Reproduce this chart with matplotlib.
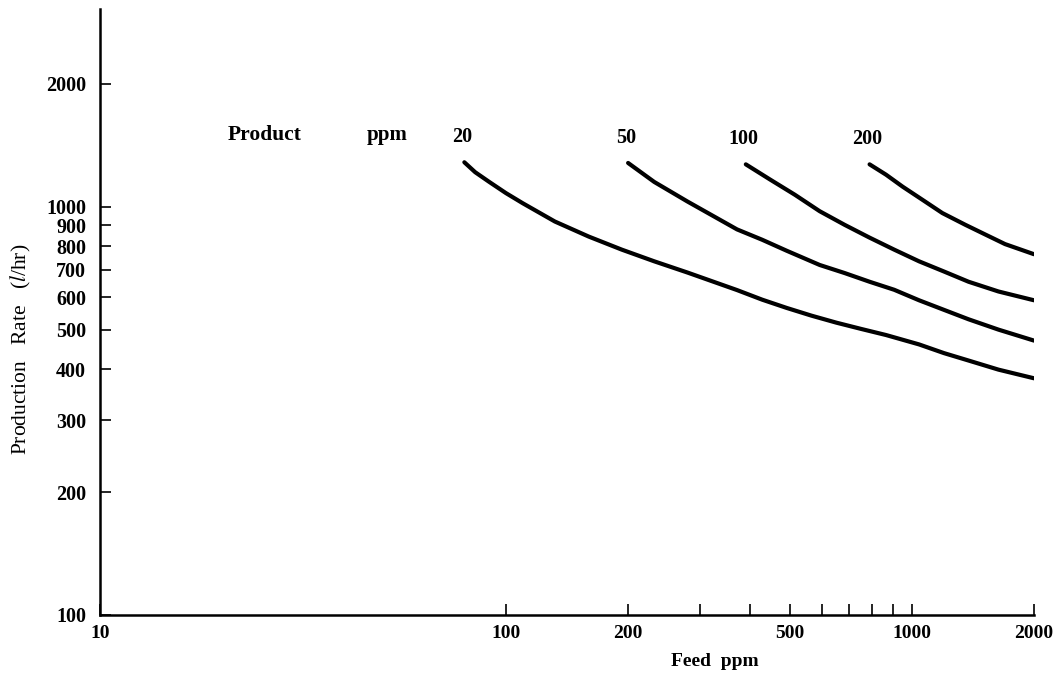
import matplotlib
matplotlib.use('Agg')
import matplotlib.pyplot as plt
from matplotlib.ticker import FixedLocator, FixedFormatter, NullFormatter

# curves: feed ppm -> production rate (l/hr), one per product ppm
feed_20 = [79, 84, 91, 100, 110, 132, 160, 193, 232, 280, 371, 428, 492, 566, 652,
           750, 864, 1042, 1200, 1380, 1635, 2000]
rate_20 = [1285, 1215, 1150, 1080, 1020, 920, 845, 785, 735, 690, 625, 592, 565, 541, 520,
           502, 485, 460, 438, 420, 399, 380]
feed_50 = [200, 232, 280, 371, 428, 492, 593, 683, 787, 905, 1042, 1200, 1380, 1635, 2000]
rate_50 = [1280, 1150, 1030, 880, 830, 780, 720, 688, 655, 626, 590, 559, 530, 500, 470]
feed_100 = [390, 448, 515, 593, 683, 787, 905, 1042, 1200, 1380, 1635, 2000]
rate_100 = [1270, 1165, 1070, 975, 903, 840, 785, 735, 694, 655, 620, 590]
feed_200 = [787, 864, 949, 1062, 1189, 1355, 1517, 1697, 2000]
rate_200 = [1270, 1198, 1120, 1040, 965, 903, 855, 810, 765]

product_labels = ['20', '50', '100', '200']

x_ticks_labeled = [10, 100, 200, 500, 1000, 2000]
x_ticks_minor = [300, 400, 600, 700, 800, 900]
y_ticks = [100, 200, 300, 400, 500, 600, 700, 800, 900, 1000, 2000]

plt.rcParams['font.family'] = ['Liberation Serif', 'DejaVu Serif']
plt.rcParams['mathtext.fontset'] = 'stix'

fig = plt.figure(figsize=(10.59, 6.82), dpi=100, facecolor='white')
ax = fig.add_axes([100 / 1059, 67 / 682, 934 / 1059, 606 / 682])

ax.set_xscale('log')
ax.set_yscale('log')
ax.set_xlim(10, 2000)
ax.set_ylim(100, 3050)

series = [(feed_20, rate_20), (feed_50, rate_50), (feed_100, rate_100), (feed_200, rate_200)]
for (fx, ry), lab in zip(series, product_labels):
    ax.plot(fx, ry, color='black', lw=3.0, solid_capstyle='round', solid_joinstyle='round')
    ax.annotate(lab, (fx[0], ry[0]), xytext=(-2, 25), textcoords='offset pixels',
                ha='center', va='center', fontsize=14.5, fontweight='bold')

ax.text(25.5, 1500, 'Product', ha='center', va='center', fontsize=15.5, fontweight='bold')
ax.text(51, 1500, 'ppm', ha='center', va='center', fontsize=15, fontweight='bold')

for s in ['top', 'right']:
    ax.spines[s].set_visible(False)
for s in ['left', 'bottom']:
    ax.spines[s].set_linewidth(1.8)

ax.xaxis.set_major_locator(FixedLocator(x_ticks_labeled))
ax.xaxis.set_major_formatter(FixedFormatter([str(v) for v in x_ticks_labeled]))
ax.xaxis.set_minor_locator(FixedLocator(x_ticks_minor))
ax.xaxis.set_minor_formatter(NullFormatter())
ax.yaxis.set_major_locator(FixedLocator(y_ticks))
ax.yaxis.set_major_formatter(FixedFormatter([str(v) for v in y_ticks]))
ax.yaxis.set_minor_locator(FixedLocator([]))

ax.tick_params(axis='x', which='both', direction='in', length=8, width=1.2, pad=7,
               labelsize=14)
ax.tick_params(axis='y', which='both', direction='in', length=8, width=1.2, pad=10,
               labelsize=14.5)
for t in ax.get_xticklabels() + ax.get_yticklabels():
    t.set_fontweight('bold')

ax.set_xlabel('Feed  ppm', fontsize=14, fontweight='bold')
ax.xaxis.set_label_coords(0.658, -0.062)
fig.text(21 / 1059, 1 - 349 / 682, r'Production   Rate   ($\mathit{l}$/hr)',
         rotation=90, ha='center', va='center', fontsize=15.5)

plt.savefig('out.png', dpi=100, facecolor='white')
plt.close(fig)
